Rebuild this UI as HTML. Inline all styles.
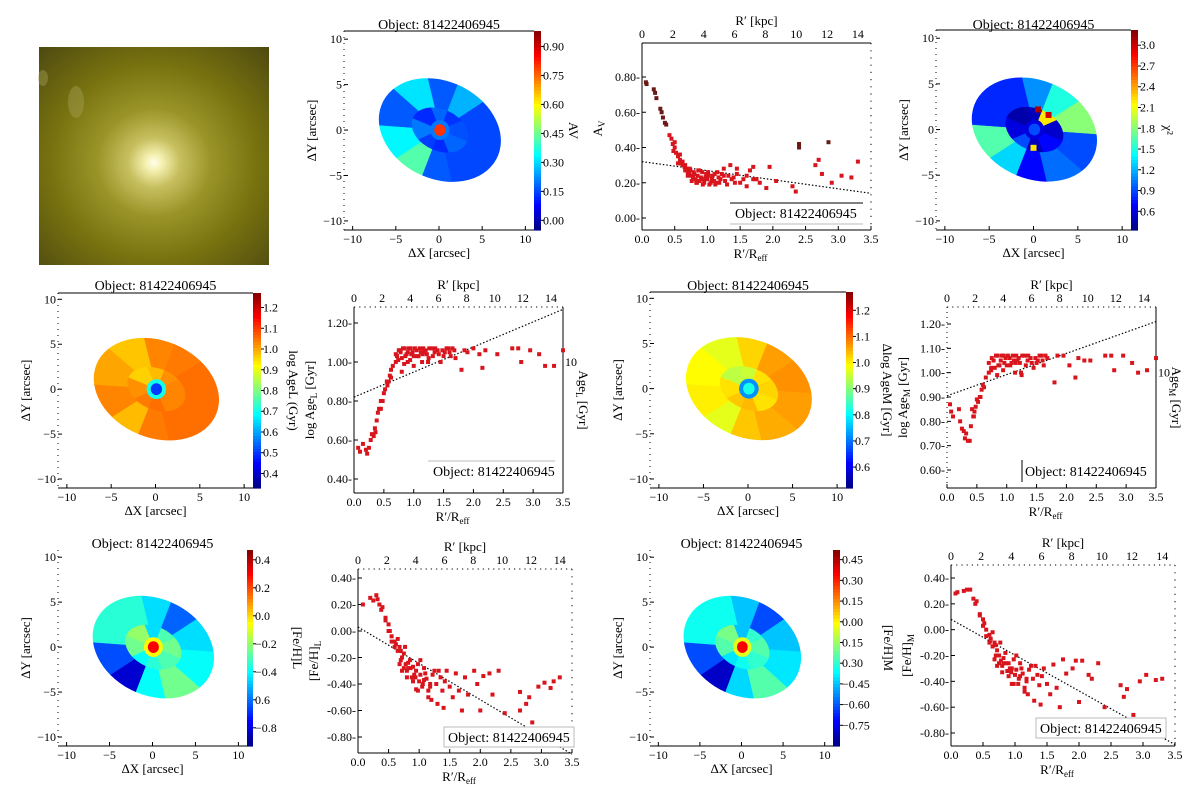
<!DOCTYPE html>
<html><head><meta charset="utf-8">
<style>
html,body{margin:0;padding:0;background:#fff;width:1200px;height:802px;overflow:hidden;}
svg{display:block;font-family:"Liberation Serif",serif;}
</style></head>
<body>
<svg id="fig" width="1200" height="802" viewBox="0 0 1200 802" xmlns="http://www.w3.org/2000/svg">
<defs>
<radialGradient id="galGrad" cx="0.5" cy="0.53" r="0.75">
<stop offset="0" stop-color="#ffffee"/>
<stop offset="0.05" stop-color="#f4f0b0"/>
<stop offset="0.15" stop-color="#c8c060"/>
<stop offset="0.33" stop-color="#9a9428"/>
<stop offset="0.6" stop-color="#77720f"/>
<stop offset="1" stop-color="#4a4610"/>
</radialGradient>
</defs>
<g>
<rect x="39" y="47" width="230" height="218" fill="url(#galGrad)"/>
<ellipse cx="76" cy="102" rx="8" ry="16" fill="#a8a45c" opacity="0.4"/>
<ellipse cx="43" cy="78" rx="5" ry="8" fill="#a8a45c" opacity="0.4"/>
</g>
</svg>
<script>
// ---------- map data ----------
const avOuter=[0.15,0.15,0.26,0.17,0.31,0.17,0.33,0.42,0.17,0.15];
const avInner=[0.16,0.13,0.18,0.12,0.2,0.14,0.12,0.18];
const avCenter=[0.2,0.8];
const chiOuter=[0.9,1.8,1.5,1.1,0.8,0.8,1.65,1.3,0.7,1.0];
const chiInner=[0.55,2.2,0.5,0.45,0.6,0.9,0.5,0.7];
const chiCenter=[0.6,0.9];
const ageLOuter=[1.05,1.05,1.04,1.03,0.97,1.0,1.03,0.98,1.04,1.05];
const ageLInner=[1.03,1.02,0.98,0.96,1.02,1.04,1.05,1.03];
const ageLCenter=[0.7,0.5];
const ageMOuter=[1.06,1.07,1.06,1.02,0.97,0.99,1.0,0.97,1.03,1.05];
const ageMInner=[1.02,1.01,0.95,0.94,1.01,1.03,1.04,1.01];
const ageMCenter=[0.72,0.82];
const fehLOuter=[-0.4,-0.45,-0.62,-0.45,-0.35,-0.35,-0.65,-0.82,-0.4,-0.25];
const fehLInner=[-0.25,-0.3,-0.45,-0.2,-0.25,-0.4,-0.35,-0.3];
const fehLCenter=[-0.05,0.3];
const fehMOuter=[-0.4,-0.45,-0.62,-0.45,-0.35,-0.35,-0.62,-0.8,-0.42,-0.25];
const fehMInner=[-0.25,-0.3,-0.45,-0.2,-0.25,-0.4,-0.35,-0.3];
const fehMCenter=[-0.05,0.35];
const chiPatchX=[0.5,1.7,0.0];
const chiPatchY=[2.2,1.6,-2.0];
const chiPatchV=[3.1,3.0,2.2];

// ---------- scatter data ----------
const avX=[0.06,0.07,0.18,0.2,0.22,0.28,0.3,0.32,0.35,0.37,0.42,0.45,0.47,0.5,0.52,0.55,0.58,0.6,0.65,0.68,0.7,0.72,0.75,0.78,0.8,0.82,0.85,0.88,0.9,0.95,0.98,1.0,1.05,1.08,1.1,1.15,1.2,1.25,1.3,1.35,1.4,1.45,1.5,1.55,1.6,1.65,1.7,1.75,1.8,1.9,1.95,2.05,2.3,2.35,2.4,2.4,2.65,2.7,2.85,2.75,2.9,3.05,3.2,3.3,0.74,0.84,0.92,1.02,1.12,0.66,0.62,0.86,0.96,1.18,
0.62,0.66,0.7,0.73,0.76,0.79,0.83,0.87,0.91,0.93,0.97,1.01,1.03,1.07,1.11,1.14,1.17,1.22,1.27,1.32,1.37,1.42,0.5,0.48,0.55,0.58,1.6,1.7,1.45,1.25];
const avY=[0.77,0.76,0.73,0.71,0.68,0.62,0.6,0.57,0.54,0.53,0.47,0.45,0.42,0.4,0.37,0.35,0.33,0.31,0.29,0.28,0.26,0.25,0.24,0.23,0.25,0.22,0.24,0.21,0.23,0.2,0.25,0.22,0.2,0.24,0.21,0.26,0.22,0.24,0.19,0.3,0.23,0.25,0.2,0.22,0.18,0.27,0.29,0.22,0.2,0.17,0.29,0.21,0.18,0.15,0.42,0.4,0.3,0.33,0.43,0.25,0.2,0.24,0.23,0.32,0.27,0.2,0.26,0.24,0.19,0.3,0.32,0.27,0.22,0.2,
0.3,0.27,0.24,0.28,0.21,0.26,0.2,0.27,0.22,0.19,0.23,0.26,0.19,0.22,0.25,0.2,0.23,0.25,0.21,0.24,0.22,0.2,0.43,0.38,0.31,0.36,0.24,0.22,0.28,0.28];
const avFitX=[0,3.5];
const avFitY=[0.32,0.14];
const ageLX=[0.07,0.1,0.15,0.2,0.22,0.25,0.28,0.3,0.33,0.35,0.38,0.4,0.45,0.45,0.5,0.52,0.55,0.6,0.62,0.65,0.7,0.7,0.75,0.8,0.85,0.9,0.95,1.0,1.05,1.1,1.15,1.2,1.25,1.3,1.35,1.4,1.45,1.5,1.55,1.6,1.65,1.7,1.8,1.85,1.9,2.0,2.1,2.15,2.2,2.4,2.65,2.75,2.8,2.95,3.1,3.2,3.35,3.5,0.9,1.0,0.8,0.78,0.88,0.98,1.08,1.18,0.72,
0.78,0.82,0.86,0.92,0.96,1.02,1.06,1.12,1.16,1.22,1.26,1.32,1.36,1.42,1.48,1.52,1.58,1.62,1.68,0.74,0.84,0.94,1.14,1.24,0.56,0.58,0.62,0.48,0.42,0.36];
const ageLY=[0.56,0.54,0.58,0.55,0.53,0.56,0.6,0.63,0.62,0.66,0.7,0.74,0.76,0.8,0.84,0.86,0.9,0.93,0.96,0.98,1.0,1.04,1.06,1.02,1.07,1.05,1.07,1.03,1.06,1.07,1.04,1.06,1.02,1.07,1.05,1.06,1.0,1.03,1.07,1.05,1.07,1.02,0.96,1.06,1.05,1.07,1.04,0.97,1.06,1.04,1.07,1.07,1.0,1.06,1.04,0.98,0.98,1.06,1.0,0.98,0.95,1.06,1.04,1.05,1.03,1.05,1.03,
1.05,1.07,1.03,1.07,1.04,1.07,1.03,1.05,1.07,1.04,1.07,1.03,1.07,1.04,1.06,1.05,1.07,1.03,1.06,1.01,0.99,1.01,1.0,1.0,0.88,0.9,0.92,0.8,0.76,0.64];
const ageLFitX=[0,3.5];
const ageLFitY=[0.82,1.27];
const ageMX=[0.05,0.07,0.1,0.2,0.22,0.25,0.3,0.32,0.35,0.38,0.4,0.42,0.45,0.48,0.5,0.55,0.58,0.6,0.65,0.7,0.7,0.75,0.8,0.85,0.9,0.95,1.0,1.05,1.1,1.15,1.2,1.25,1.3,1.35,1.4,1.45,1.5,1.55,1.6,1.65,1.8,1.85,1.95,2.05,2.15,2.2,2.3,2.4,2.65,2.75,2.8,2.95,3.1,3.2,3.35,3.5,0.78,0.88,0.98,1.08,1.18,0.74,
0.78,0.82,0.86,0.92,0.96,1.02,1.06,1.12,1.16,1.22,1.26,1.32,1.36,1.42,1.48,1.52,1.58,1.62,1.68,0.74,0.84,0.94,1.14,1.24,0.52,0.56,0.62,0.44,0.46,0.28];
const ageMY=[0.87,0.84,0.82,0.85,0.8,0.77,0.73,0.75,0.72,0.72,0.78,0.85,0.82,0.86,0.89,0.9,0.93,0.95,0.98,1.0,1.04,1.06,1.02,1.07,1.05,1.07,1.03,1.06,1.07,1.04,1.06,0.99,1.07,1.05,1.06,1.02,1.04,1.07,1.05,1.07,0.96,1.07,1.07,1.03,0.98,1.06,1.05,1.05,1.07,1.07,1.01,1.07,1.04,1.0,1.01,1.06,1.05,1.03,1.06,1.04,1.05,1.02,
1.05,1.07,1.03,1.07,1.04,1.07,1.03,1.05,1.07,1.04,1.07,1.03,1.07,1.04,1.06,1.05,1.07,1.03,1.06,1.01,0.99,1.01,1.0,1.0,0.88,0.9,0.94,0.82,0.84,0.76];
const ageMFitX=[0,3.5];
const ageMFitY=[0.905,1.21];
const fehLX=[0.08,0.2,0.25,0.3,0.32,0.35,0.38,0.4,0.45,0.5,0.52,0.55,0.6,0.62,0.65,0.7,0.72,0.75,0.78,0.8,0.85,0.88,0.9,0.95,1.0,1.02,1.05,1.1,1.15,1.2,1.25,1.3,1.35,1.4,1.45,1.5,1.55,1.6,1.65,1.7,1.75,1.8,1.9,1.95,2.0,2.05,2.15,2.2,2.3,2.4,2.4,2.65,2.65,2.75,2.8,2.85,2.95,3.05,3.15,3.2,3.3,0.82,0.92,1.08,1.18,0.68,0.98,
0.6,0.65,0.7,0.75,0.8,0.82,0.86,0.9,0.94,0.98,1.02,1.06,1.08,1.12,1.18,1.22,1.28,1.32,1.38,1.42,0.72,0.77,0.68,0.95,1.15,0.55,0.5,0.45];
const fehLY=[0.2,0.25,0.23,0.27,0.24,0.2,0.16,0.18,0.1,0.05,0.0,-0.04,-0.08,-0.1,-0.06,-0.15,-0.2,-0.17,-0.25,-0.3,-0.22,-0.35,-0.27,-0.3,-0.38,-0.22,-0.42,-0.32,-0.45,-0.52,-0.3,-0.55,-0.35,-0.58,-0.3,-0.42,-0.5,-0.32,-0.45,-0.6,-0.35,-0.48,-0.3,-0.4,-0.6,-0.34,-0.32,-0.48,-0.3,-0.62,-0.74,-0.6,-0.46,-0.55,-0.5,-0.69,-0.42,-0.39,-0.43,-0.38,-0.35,-0.28,-0.33,-0.37,-0.4,-0.12,-0.45,
-0.12,-0.15,-0.22,-0.28,-0.35,-0.24,-0.28,-0.38,-0.35,-0.25,-0.33,-0.4,-0.28,-0.36,-0.42,-0.33,-0.4,-0.3,-0.45,-0.38,-0.3,-0.12,-0.25,-0.44,-0.5,-0.08,0.0,0.08];
const fehLFitX=[0,3.5];
const fehLFitY=[0.03,-0.93];
const fehMX=[0.07,0.1,0.2,0.25,0.3,0.35,0.38,0.4,0.45,0.5,0.52,0.55,0.6,0.62,0.65,0.7,0.72,0.75,0.78,0.8,0.85,0.88,0.9,0.95,1.0,1.02,1.05,1.1,1.15,1.2,1.25,1.3,1.35,1.4,1.45,1.5,1.55,1.6,1.65,1.7,1.75,1.8,1.9,1.95,2.0,2.05,2.15,2.2,2.3,2.4,2.65,2.7,2.75,2.85,2.95,3.05,3.2,3.3,0.82,0.92,1.08,1.18,0.68,0.98,
0.6,0.65,0.7,0.75,0.8,0.82,0.86,0.9,0.94,0.98,1.02,1.06,1.08,1.12,1.18,1.22,1.28,1.32,1.38,1.42,0.72,0.77,0.68,0.95,1.15,0.55,0.5,0.45];
const fehMY=[0.28,0.29,0.3,0.31,0.31,0.24,0.2,0.22,0.12,0.08,0.05,0.0,-0.04,-0.07,-0.02,-0.12,-0.16,-0.2,-0.24,-0.28,-0.18,-0.32,-0.26,-0.3,-0.35,-0.2,-0.42,-0.3,-0.45,-0.5,-0.28,-0.55,-0.35,-0.58,-0.3,-0.42,-0.5,-0.27,-0.45,-0.6,-0.23,-0.34,-0.3,-0.24,-0.56,-0.24,-0.35,-0.38,-0.26,-0.6,-0.43,-0.52,-0.46,-0.66,-0.4,-0.35,-0.39,-0.38,-0.26,-0.3,-0.36,-0.38,-0.1,-0.42,
-0.1,-0.13,-0.2,-0.26,-0.33,-0.22,-0.26,-0.36,-0.33,-0.23,-0.31,-0.38,-0.26,-0.34,-0.4,-0.31,-0.38,-0.28,-0.43,-0.36,-0.28,-0.1,-0.23,-0.42,-0.48,-0.05,0.03,0.11];
const fehMFitX=[0,3.5];
const fehMFitY=[0.08,-0.89];
const kpcTicks=[0,2,4,6,8,10,12,14];
const reffTicks=[0,0.5,1.0,1.5,2.0,2.5,3.0,3.5];

const NS='http://www.w3.org/2000/svg';
const svg=document.getElementById('fig');
function el(tag,attrs,parent){const e=document.createElementNS(NS,tag);for(const k in attrs)e.setAttribute(k,attrs[k]);(parent||svg).appendChild(e);return e;}
function txt(s,x,y,size,anchor,parent,extra){const t=el('text',Object.assign({x:x,y:y,'font-size':size,'text-anchor':anchor||'start',fill:'#000'},extra||{}),parent);t.textContent=s;return t;}
function jet(v){v=Math.max(0,Math.min(1,v));const c=x=>Math.round(255*Math.max(0,Math.min(1,x)));return 'rgb('+c(1.5-Math.abs(4*v-3))+','+c(1.5-Math.abs(4*v-2))+','+c(1.5-Math.abs(4*v-1))+')';}
let gid=0;

function drawMap(p){
  const g=el('g',{});
  
  
  const sx=(p.x1-p.x0)/22, sy=(p.y1-p.y0)/(p.ymax-p.ymin);
  const X=v=>p.x0+(v+11)*sx, Y=v=>p.y0+(p.ymax-v)*sy;
  const norm=v=>(v-p.vmin)/(p.vmax-p.vmin);
  const cx=X(0.1), cy=Y(0);
  gid++;
  const cp=el('clipPath',{id:'clip'+gid},g);
  el('ellipse',{cx:0,cy:0,rx:7.3,ry:5.4},cp);
  const eg=el('g',{transform:'translate('+cx+','+cy+') scale('+sx+','+sy+') rotate(22)','clip-path':'url(#clip'+gid+')'},g);
  
  
  const n=p.outer.length;
  for(let i=0;i<n;i++){
    const a0=i*2*Math.PI/n-Math.PI/n, a1=a0+2*Math.PI/n;
    el('polygon',{points:'0,0 '+20*Math.cos(a0)+','+(-20*Math.sin(a0))+' '+20*Math.cos(a1)+','+(-20*Math.sin(a1)),fill:jet(norm(p.outer[i])),stroke:jet(norm(p.outer[i])),'stroke-width':0.05},eg);
  }
  gid++;
  const cp2=el('clipPath',{id:'clip'+gid},g);
  el('ellipse',{cx:0,cy:0,rx:3.4,ry:2.3},cp2);
  const ig=el('g',{'clip-path':'url(#clip'+gid+')'},eg);
  const m=p.inner.length;
  for(let i=0;i<m;i++){
    const a0=i*2*Math.PI/m, a1=a0+2*Math.PI/m;
    el('polygon',{points:'0,0 '+8*Math.cos(a0)+','+(-8*Math.sin(a0))+' '+8*Math.cos(a1)+','+(-8*Math.sin(a1)),fill:jet(norm(p.inner[i])),stroke:jet(norm(p.inner[i])),'stroke-width':0.05},ig);
  }
  el('circle',{cx:0,cy:0,r:1.1,fill:jet(norm(p.center[0]))},eg);
  el('circle',{cx:0,cy:0,r:0.65,fill:jet(norm(p.center[1]))},eg);
  if(p.px){for(let i=0;i<p.px.length;i++){el('rect',{x:X(p.px[i])-3,y:Y(p.py[i])-3,width:6,height:6,fill:jet(norm(p.pv[i]))},g);}}
  el('line',{x1:p.x0,y1:p.y1,x2:p.x1,y2:p.y1,stroke:'#000','stroke-width':1},g);
  if(p.topLine) el('line',{x1:p.x0,y1:p.y0,x2:p.x1,y2:p.y0,stroke:'#000','stroke-width':1},g);
  el('line',{x1:p.x0,y1:p.y0,x2:p.x0,y2:p.y1,stroke:'#000','stroke-width':1,'stroke-dasharray':'1,5'},g);
  for(let v=-10;v<=10;v+=5){
    el('line',{x1:p.x0,y1:Y(v),x2:p.x0+4,y2:Y(v),stroke:'#000'},g);
    txt(String(v).replace('-','−'),p.x0-2,Y(v)+4,12,'end',g);
    el('line',{x1:X(v),y1:p.y1,x2:X(v),y2:p.y1-4,stroke:'#000'},g);
    txt(String(v).replace('-','−'),X(v),p.y1+13,12,'middle',g);
  }
  txt('ΔX [arcsec]',(p.x0+p.x1)/2,p.y1+27,13,'middle',g);
  txt('ΔY [arcsec]',0,0,13,'middle',g,{transform:'translate('+(p.x0-28)+','+((p.y0+p.y1)/2)+') rotate(-90)'});
  const t=txt('Object: 81422406945',(p.x0+p.x1)/2,p.ty,14,'middle',g);
  
  
  const cb=el('g',{},g);
  
  
  const N=60, h=(p.cy1-p.cy0)/N;
  for(let i=0;i<N;i++) el('rect',{x:p.cx0,y:p.cy0+i*h,width:p.cx1-p.cx0,height:h+0.6,fill:jet(1-(i+0.5)/N)},cb);
  const CY=v=>p.cy1-(v-p.vmin)/(p.vmax-p.vmin)*(p.cy1-p.cy0);
  for(let i=0;i<p.ticks.length;i++){
    el('line',{x1:p.cx1,y1:CY(p.ticks[i]),x2:p.cx1+3,y2:CY(p.ticks[i]),stroke:'#000'},cb);
    txt(p.tickLabels[i],p.cx1+2,CY(p.ticks[i])+4,12,'start',cb);
  }
  txt(p.cbLabel,0,0,13,'middle',cb,{transform:'translate('+(p.cx1+p.lblOff)+','+((p.cy0+p.cy1)/2)+') rotate(90)'});
}

function drawScatter(p){
  const g=el('g',{});
  
  
  const X=v=>p.x0+v/3.5*(p.x1-p.x0);
  const Y=v=>p.ya+(v-p.va)/(p.vb-p.va)*(p.yb-p.ya);
  el('line',{x1:p.x0,y1:p.yBot,x2:p.x1,y2:p.yBot,stroke:'#000'},g);
  el('line',{x1:p.x0,y1:p.yTop,x2:p.x0,y2:p.yBot,stroke:'#000','stroke-dasharray':p.leftDot?'1,4':''},g);
  el('line',{x1:p.x0,y1:p.yTop,x2:p.x1,y2:p.yTop,stroke:'#000','stroke-dasharray':p.topSolid?'':'1.2,4'},g);
  el('line',{x1:p.x1,y1:p.yTop,x2:p.x1,y2:p.yBot,stroke:'#000','stroke-dasharray':p.rightSolid?'':'1.2,6'},g);
  for(const v of reffTicks){
    el('line',{x1:X(v),y1:p.yBot,x2:X(v),y2:p.yBot-4,stroke:'#000'},g);
    txt(v.toFixed(1),X(v),p.yBot+13,12,'middle',g);
  }
  for(const v of kpcTicks){ txt(String(v),p.x0+v*(X(3.3)-p.x0)/14,p.yTop-5,12,'middle',g); }
  txt("R′ [kpc]",(p.x0+p.x1)/2,p.yTop-18,13,'middle',g);
  const xl=txt("R′/R",(p.x0+p.x1)/2-6,p.yBot+28,13,'middle',g);
  const sub=el('tspan',{'font-size':9,dy:3},xl); sub.textContent='eff';
  for(let i=0;i<p.yticks.length;i++){
    el('line',{x1:p.x0,y1:Y(p.yticks[i]),x2:p.x0+4,y2:Y(p.yticks[i]),stroke:'#000'},g);
    txt(p.ytl[i],p.x0-2,Y(p.yticks[i])+4,12,'end',g);
  }
  const yl=txt(p.ylab,0,0,13,'middle',g,{transform:'translate('+(p.x0-40)+','+((p.yTop+p.yBot)/2+p.ylOff)+') rotate(-90)'});
  if(p.ysub){const s=el('tspan',{'font-size':9,dy:3},yl);s.textContent=p.ysub; if(p.ytail){const s2=el('tspan',{'font-size':13,dy:-3},yl);s2.textContent=p.ytail;}}
  if(p.right){
    txt('10',p.x1+2,Y(1.0)+4,12,'start',g);
    const rl=txt(p.right[0],0,0,13,'middle',g,{transform:'translate('+(p.x1+16)+','+((p.yTop+p.yBot)/2)+') rotate(90)'});
    const s=el('tspan',{'font-size':9,dy:3},rl);s.textContent=p.right[1];
    const s2=el('tspan',{'font-size':13,dy:-3},rl);s2.textContent=' [Gyr]';
  }
  const fl=el('line',{x1:X(p.fx[0]),y1:Y(p.fy[0]),x2:X(p.fx[1]),y2:Y(p.fy[1]),stroke:'#000','stroke-width':1.2,'stroke-dasharray':'1.5,2'},g);
  
  
  for(let i=0;i<p.xs.length;i++){
    const dark=p.dark&&(p.xs[i]<0.4||p.ys[i]>0.38&&p.xs[i]>2);
    const c=el('rect',{x:X(p.xs[i])-2,y:Y(p.ys[i])-2,width:4,height:4,fill:dark?'#6b1a1a':'#d8141c'},g);
    
    
  }
  const L=p.leg;
  const lg=el('g',{},g);
  
  
  if(L.box) el('rect',{x:L.x-4,y:L.y-15,width:130,height:20,fill:'#fff',stroke:'#bbb'},lg);
  if(L.lines){el('line',{x1:L.x-5,y1:L.y-15,x2:L.x+128,y2:L.y-15,stroke:'#000'},lg);el('line',{x1:L.x-5,y1:L.y+6,x2:L.x+128,y2:L.y+6,stroke:'#bbb'},lg);}
  if(L.vbar) el('line',{x1:L.x-3,y1:L.y-16,x2:L.x-3,y2:L.y+6,stroke:'#000'},lg);
  if(L.top) el('line',{x1:L.x-5,y1:L.y-15,x2:L.x+122,y2:L.y-15,stroke:'#bbb'},lg);
  txt('Object: 81422406945',L.x,L.y,14,'start',lg);
}

drawMap({name:'av-map',x0:344,x1:534,y0:31,y1:230,ymax:10.9,ymin:-11,ty:29,topLine:true,outer:avOuter,inner:avInner,center:avCenter,vmin:-0.05,vmax:0.98,cx0:534,cx1:541,cy0:31,cy1:230,ticks:[0,0.15,0.3,0.45,0.6,0.75,0.9],tickLabels:['0.00','0.15','0.30','0.45','0.60','0.75','0.90'],cbLabel:'AV',lblOff:28});
drawMap({name:'chi2-map',x0:936,x1:1131,y0:30,y1:230,ymax:10.9,ymin:-11,ty:29,topLine:true,outer:chiOuter,inner:chiInner,center:chiCenter,px:chiPatchX,py:chiPatchY,pv:chiPatchV,vmin:0.33,vmax:3.22,cx0:1131,cx1:1138,cy0:30,cy1:230,ticks:[0.6,0.9,1.2,1.5,1.8,2.1,2.4,2.7,3.0],tickLabels:['0.6','0.9','1.2','1.5','1.8','2.1','2.4','2.7','3.0'],cbLabel:'χ²',lblOff:26});
drawMap({name:'age-l-map',x0:58,x1:253,y0:293,y1:488,ymax:10.7,ymin:-11,ty:290,topLine:true,outer:ageLOuter,inner:ageLInner,center:ageLCenter,vmin:0.33,vmax:1.27,cx0:253,cx1:261,cy0:293,cy1:488,ticks:[0.4,0.5,0.6,0.7,0.8,0.9,1.0,1.1,1.2],tickLabels:['0.4','0.5','0.6','0.7','0.8','0.9','1.0','1.1','1.2'],cbLabel:'log AgeL (Gyr)',lblOff:28});
drawMap({name:'age-m-map',x0:650,x1:846,y0:292,y1:488,ymax:10.7,ymin:-11,ty:290,topLine:true,outer:ageMOuter,inner:ageMInner,center:ageMCenter,vmin:0.52,vmax:1.27,cx0:846,cx1:853,cy0:292,cy1:488,ticks:[0.6,0.7,0.8,0.9,1.0,1.1,1.2],tickLabels:['0.6','0.7','0.8','0.9','1.0','1.1','1.2'],cbLabel:'Δlog AgeM [Gyr]',lblOff:30});
drawMap({name:'feh-l-map',x0:58,x1:247,y0:550,y1:746,ymax:10.8,ymin:-11,ty:548,topLine:false,outer:fehLOuter,inner:fehLInner,center:fehLCenter,vmin:-0.93,vmax:0.47,cx0:247,cx1:253,cy0:550,cy1:746,ticks:[-0.8,-0.6,-0.4,-0.2,0,0.2,0.4],tickLabels:['−0.8','0.6','−0.4','−0.2','0.0','0.2','0.4'],cbLabel:'[Fe/H]L',lblOff:40});
drawMap({name:'feh-m-map',x0:650,x1:833,y0:550,y1:746,ymax:10.8,ymin:-11,ty:548,topLine:false,outer:fehMOuter,inner:fehMInner,center:fehMCenter,vmin:-0.9,vmax:0.52,cx0:833,cx1:840,cy0:550,cy1:746,ticks:[-0.75,-0.6,-0.45,-0.3,-0.15,0,0.15,0.3,0.45],tickLabels:['−0.75','−0.60','−0.45','0.30','0.15','0.00','0.15','0.30','0.45'],cbLabel:'[Fe/H]M',lblOff:44});

drawScatter({name:'av-profile',x0:642,x1:871,yTop:43,yBot:230,ya:77,va:0.8,yb:218,vb:0.0,topSolid:true,yticks:[0,0.2,0.4,0.6,0.8],ytl:['0.00-','0.20-','0.40-','0.60-','0.80-'],ylab:'A',ysub:'V',ylOff:-8,xs:avX,ys:avY,fx:avFitX,fy:avFitY,dark:true,leg:{x:735,y:218,lines:true}});
drawScatter({name:'age-l-profile',x0:354,x1:563,yTop:307,yBot:493,ya:323,va:1.2,yb:479,vb:0.4,rightSolid:true,yticks:[0.4,0.6,0.8,1.0,1.2],ytl:['0.40-','0.60-','0.80-','1.00-','1.20-'],ylab:'log Age',ysub:'L',ytail:' [Gyr]',ylOff:0,right:['Age','L'],xs:ageLX,ys:ageLY,fx:ageLFitX,fy:ageLFitY,leg:{x:433,y:476,top:true}});
drawScatter({name:'age-m-profile',x0:947,x1:1156,yTop:307,yBot:488,ya:324,va:1.2,yb:470,vb:0.6,rightSolid:true,leftDot:true,yticks:[0.6,0.7,0.8,0.9,1.0,1.1,1.2],ytl:['0.60-','0.70-','0.80-','0.90-','1.00-','1.10-','1.20-'],ylab:'log Age',ysub:'M',ytail:' [Gyr]',ylOff:0,right:['Age','M'],xs:ageMX,ys:ageMY,fx:ageMFitX,fy:ageMFitY,leg:{x:1025,y:476,vbar:true}});
drawScatter({name:'feh-l-profile',x0:358,x1:572,yTop:569,yBot:753,ya:578,va:0.4,yb:737,vb:-0.8,yticks:[-0.8,-0.6,-0.4,-0.2,0,0.2,0.4],ytl:['-0.80-','-0.60-','-0.40-','-0.20-','0.00-','0.20-','0.40-'],ylab:'[Fe/H]',ysub:'L',ylOff:0,xs:fehLX,ys:fehLY,fx:fehLFitX,fy:fehLFitY,leg:{x:448,y:742,box:true}});
drawScatter({name:'feh-m-profile',x0:951,x1:1175,yTop:565,yBot:746,ya:578,va:0.4,yb:733,vb:-0.8,yticks:[-0.8,-0.6,-0.4,-0.2,0,0.2,0.4],ytl:['-0.80-','-0.60-','-0.40-','-0.20-','0.00-','0.20-','0.40-'],ylab:'[Fe/H]',ysub:'M',ylOff:0,xs:fehMX,ys:fehMY,fx:fehMFitX,fy:fehMFitY,leg:{x:1040,y:733,box:true}});
</script>
</body></html>
